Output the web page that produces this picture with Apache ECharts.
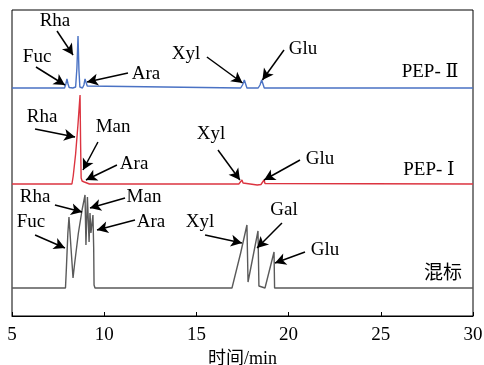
<!DOCTYPE html>
<html>
<head>
<meta charset="utf-8">
<script src="https://cdn.jsdelivr.net/npm/echarts@6/dist/echarts.min.js"></script>
<style>
  html, body { margin: 0; padding: 0; background: #fff; }
  #main { width: 484px; height: 365px; }
</style>
</head>
<body>
<div id="main"></div>
<script>
// time (min), signal above own baseline
var pep2 = [[5,0],[7.85,0],[7.92,4],[7.98,9],[8.04,4],[8.1,0.5],[8.3,0],[8.45,1],[8.52,20],[8.58,52],[8.63,18],[8.68,1],[8.82,0],[8.9,3],[8.96,9],[9.02,8],[9.08,2],[9.15,0],
  [17.4,0],[17.5,3],[17.6,8],[17.66,7],[17.74,0],[18.35,0],[18.45,3],[18.54,8],[18.6,7],[18.68,0],[30,0]];
var pep1 = [[5,0],[8.25,0],[8.32,8],[8.45,30],[8.58,60],[8.69,89],[8.72,40],[8.75,6],[8.8,3],[8.86,5],[8.92,2],[9.0,0.5],[9.2,0],
  [17.3,0],[17.4,1],[17.47,4],[17.53,1],[17.6,-1],[18.3,-1],[18.5,-0.5],[18.6,1],[18.67,4],[18.72,0.5],[18.8,0],[30,0]];
var mixStd = [[5,0],[7.9,0],[7.95,20],[8.03,55],[8.09,71],[8.2,40],[8.31,10],[8.4,25],[8.6,55],[8.8,78],[8.96,93],[9.01,43],[9.09,91],[9.18,46],[9.23,75],[9.28,55],[9.39,73],[9.43,40],[9.45,3],[9.5,0],
  [16.93,0],[17.4,35],[17.74,63],[17.8,6],[18.34,57],[18.39,2],[18.72,0],[19.21,36],[19.24,0],[30,0]];

var baseline = { pep2: 228, pep1: 132, mix: 28 };
var xTicks = [5, 10, 15, 20, 25, 30];

// annotations: text, text pos [t, v], arrow from [t, v], arrow to [t, v]
var notes2 = [
  ['Rha', [7.33,295], [7.44,285], [8.31,261]],
  ['Fuc', [6.36,259], [6.30,249], [7.87,231]],
  ['Ara', [12.27,242], [11.29,243], [9.07,234]],
  ['Xyl', [14.44,262], [15.57,259], [17.5,233]],
  ['Glu', [20.78,267], [19.75,266], [18.58,236]],
  ['PEP- Ⅱ', [27.67,244]]
];
var notes1 = [
  ['Rha', [6.63,199], [6.25,187], [8.42,179]],
  ['Man', [10.48,189], [9.66,174], [8.85,146]],
  ['Ara', [11.62,152], [10.69,151], [9.01,136]],
  ['Xyl', [15.79,182], [16.17,166], [17.36,136]],
  ['Glu', [21.70,157], [20.62,156], [18.67,136]],
  ['PEP- Ⅰ', [27.61,146]]
];
var notesMix = [
  ['Rha', [6.25,119], [7.33,111], [8.8,104]],
  ['Fuc', [6.03,94], [6.25,81], [7.87,68]],
  ['Man', [12.16,119], [11.13,118], [9.23,108]],
  ['Ara', [12.54,94], [11.67,96], [9.61,86]],
  ['Xyl', [15.20,94], [15.47,81], [17.47,73]],
  ['Gal', [19.75,106], [19.64,93], [18.29,68]],
  ['Glu', [21.97,66], [20.89,64], [19.26,53]],
  ['混标', [28.37,42]]
];

var font = '"Liberation Serif", "DejaVu Serif", "Noto Sans CJK SC", serif';

function shift(arr, off) {
  return arr.map(function (p) { return [p[0], p[1] + off]; });
}

function makeSeries(name, data, off, color, notes) {
  var arrows = [], texts = [];
  notes.forEach(function (n) {
    texts.push({ name: n[0], coord: n[1] });
    if (n[2]) arrows.push([{ coord: n[2] }, { coord: n[3] }]);
  });
  return {
    name: name,
    type: 'line',
    data: shift(data, off),
    showSymbol: false,
    lineStyle: { color: color, width: 1.4 },
    itemStyle: { color: color },
    animation: false,
    markLine: {
      silent: true,
      animation: false,
      symbol: ['none', 'arrow'],
      symbolSize: [9, 11],
      label: { show: false },
      lineStyle: { color: '#000', width: 1.5, type: 'solid' },
      data: arrows
    },
    markPoint: {
      silent: true,
      animation: false,
      symbol: 'circle',
      symbolSize: 1,
      itemStyle: { color: 'rgba(0,0,0,0)' },
      label: {
        show: true, position: 'inside', formatter: '{b}',
        color: '#000', fontSize: 19, fontFamily: font
      },
      data: texts
    }
  };
}

var myChart = echarts.init(document.getElementById('main'));
myChart.setOption({
  backgroundColor: '#fff',
  grid: { left: 12, right: 11, top: 10, bottom: 49, containLabel: false, outerBoundsMode: 'none',
    show: true, borderColor: '#000', borderWidth: 1 },
  xAxis: {
    type: 'value', min: 5, max: 30, interval: 5,
    name: '时间/min', nameLocation: 'middle', nameGap: 27,
    nameTextStyle: { color: '#000', fontSize: 18, fontFamily: font },
    axisLine: { lineStyle: { color: '#000', width: 1 } },
    axisTick: { inside: true, length: 4, lineStyle: { color: '#000' } },
    axisLabel: { color: '#000', fontSize: 19, fontFamily: font, margin: 10, showMinLabel: true, showMaxLabel: true,
      customValues: xTicks },
    splitLine: { show: false }
  },
  yAxis: {
    type: 'value', min: 0, max: 306, show: false, splitLine: { show: false }
  },
  series: [
    makeSeries('PEP-Ⅱ', pep2, baseline.pep2, '#4a72c4', notes2),
    makeSeries('PEP-Ⅰ', pep1, baseline.pep1, '#dc3440', notes1),
    makeSeries('混标', mixStd, baseline.mix, '#5a5a5a', notesMix)
  ]
});
</script>
</body>
</html>
